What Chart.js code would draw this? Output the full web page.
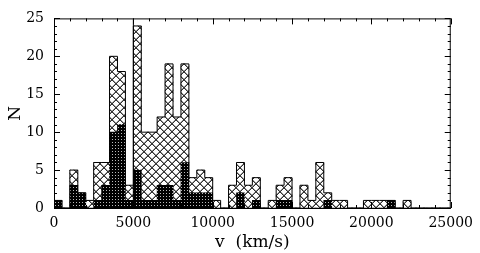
<!DOCTYPE html>
<html>
<head>
<meta charset="utf-8">
<script src="https://cdn.jsdelivr.net/npm/chart.js@4"></script>
<style>
  body { margin: 0; background: #fff; }
  #wrap { width: 480px; height: 253px; }
</style>
</head>
<body>
<div id="wrap"><canvas id="myChart" width="480" height="253"></canvas></div>
<script>
// histogram bins, 500 km/s wide, starting at 0
const BIN_WIDTH = 500;
const binStarts = Array.from({length: 50}, (_, i) => i * BIN_WIDTH);

// all galaxies (cross-hatched)
const allCounts = [
  1, 0, 5, 2, 1, 6, 6, 20, 18, 3,
  24, 10, 10, 12, 19, 12, 19, 4, 5, 4,
  1, 0, 3, 6, 3, 4, 0, 1, 3, 4,
  0, 3, 1, 6, 2, 1, 1, 0, 0, 1,
  1, 1, 1, 0, 1, 0, 0, 0, 0, 0
];
// subsample (dark)
const subCounts = [
  1, 0, 3, 2, 0, 1, 3, 10, 11, 1,
  5, 1, 1, 3, 3, 1, 6, 2, 2, 2,
  0, 0, 0, 2, 0, 1, 0, 0, 1, 1,
  0, 0, 0, 0, 1, 0, 0, 0, 0, 0,
  0, 0, 1, 0, 0, 0, 0, 0, 0, 0
];
const markerV = 5000;
const xTicks = [0, 5000, 10000, 15000, 20000, 25000];
const yTicks = [0, 5, 10, 15, 20, 25];

function makePattern(size, draw) {
  const c = document.createElement('canvas');
  c.width = c.height = size;
  const g = c.getContext('2d');
  draw(g, size);
  return g.createPattern(c, 'repeat');
}

const crossHatch = makePattern(8, (g, s) => {
  g.fillStyle = '#fff';
  g.fillRect(0, 0, s, s);
  for (let i = 0; i < s; i++) {
    g.fillStyle = '#999';
    g.fillRect((i + 1) % s, i, 1, 1);
    g.fillRect((2 * s - 2 - i) % s, i, 1, 1);
    g.fillStyle = '#333';
    g.fillRect(i, i, 1, 1);
    g.fillRect(s - 1 - i, i, 1, 1);
  }
});

const denseHatch = makePattern(3, (g, s) => {
  g.fillStyle = '#000';
  g.fillRect(0, 0, s, s);
  g.fillStyle = '#bbb';
  g.fillRect(1, 1, 1, 1);
});

const centers = binStarts.map(b => b + BIN_WIDTH / 2);
const outline = binStarts.map((b, i) => ({x: b, y: allCounts[i]}));
outline.push({x: binStarts[binStarts.length - 1] + BIN_WIDTH, y: 0});

// frame with inward ticks on all four sides
const framePlugin = {
  id: 'frame',
  afterDatasetsDraw(chart) {
    const {ctx, chartArea: a, scales: {x, y}} = chart;
    ctx.save();
    ctx.strokeStyle = '#000';
    ctx.lineWidth = 1;
    ctx.strokeRect(a.left + 0.5, a.top + 0.5, a.right - a.left - 1, a.bottom - a.top);
    ctx.beginPath();
    for (let v = 0; v <= 25000; v += 1000) {
      const px = Math.round(x.getPixelForValue(v)) + 0.5;
      const len = v % 5000 === 0 ? 6 : 3;
      ctx.moveTo(px, a.bottom); ctx.lineTo(px, a.bottom - len);
      ctx.moveTo(px, a.top); ctx.lineTo(px, a.top + len);
    }
    for (let v = 0; v <= 25; v += 1) {
      const py = Math.round(y.getPixelForValue(v)) + 0.5;
      const len = v % 5 === 0 ? 6 : 3;
      ctx.moveTo(a.left, py); ctx.lineTo(a.left + len, py);
      ctx.moveTo(a.right, py); ctx.lineTo(a.right - len, py);
    }
    ctx.stroke();
    ctx.restore();
  }
};

const config = {
  type: 'bar',
  data: {
    datasets: [
      {
        type: 'line',
        data: outline,
        stepped: 'before',
        borderColor: '#000',
        borderWidth: 1,
        pointRadius: 0,
        fill: false,
        order: 0
      },
      {
        type: 'line',
        data: [{x: markerV, y: 0}, {x: markerV, y: 25}],
        borderColor: '#000',
        borderWidth: 1,
        pointRadius: 0,
        fill: false,
        order: 0
      },
      {
        data: centers.map((c, i) => ({x: c, y: subCounts[i]})),
        backgroundColor: denseHatch,
        borderWidth: 0,
        grouped: false,
        barPercentage: 1,
        categoryPercentage: 1,
        order: 1
      },
      {
        data: centers.map((c, i) => ({x: c, y: allCounts[i]})),
        backgroundColor: crossHatch,
        borderWidth: 0,
        grouped: false,
        barPercentage: 1,
        categoryPercentage: 1,
        order: 2
      }
    ]
  },
  options: {
    responsive: false,
    animation: false,
    layout: {padding: {top: 12, right: 27, left: 0, bottom: 0}},
    plugins: {legend: {display: false}, tooltip: {enabled: false}},
    scales: {
      x: {
        type: 'linear',
        min: 0,
        max: 25000,
        offset: false,
        grid: {display: false, drawTicks: false, offset: false},
        border: {display: false},
        afterBuildTicks: s => { s.ticks = xTicks.map(v => ({value: v})); },
        afterFit: s => { s.height = 45; },
        ticks: {
          color: '#000',
          padding: 7,
          maxRotation: 0,
          font: {family: 'DejaVu Serif', size: 14},
          callback: v => String(v)
        },
        title: {
          display: true,
          text: 'v  (km/s)',
          color: '#000',
          padding: {top: 2, bottom: 0},
          font: {family: 'DejaVu Serif', size: 17}
        }
      },
      y: {
        min: 0,
        max: 25,
        grid: {display: false, drawTicks: false},
        border: {display: false},
        afterBuildTicks: s => { s.ticks = yTicks.map(v => ({value: v})); },
        afterFit: s => { s.width = 54; },
        ticks: {
          color: '#000',
          padding: 10,
          font: {family: 'DejaVu Serif', size: 14}
        },
        title: {
          display: true,
          text: 'N',
          color: '#000',
          padding: {top: 5, bottom: 0},
          font: {family: 'DejaVu Serif', size: 17}
        }
      }
    }
  },
  plugins: [framePlugin]
};

const myChart = new Chart(document.getElementById('myChart'), config);
</script>
</body>
</html>
